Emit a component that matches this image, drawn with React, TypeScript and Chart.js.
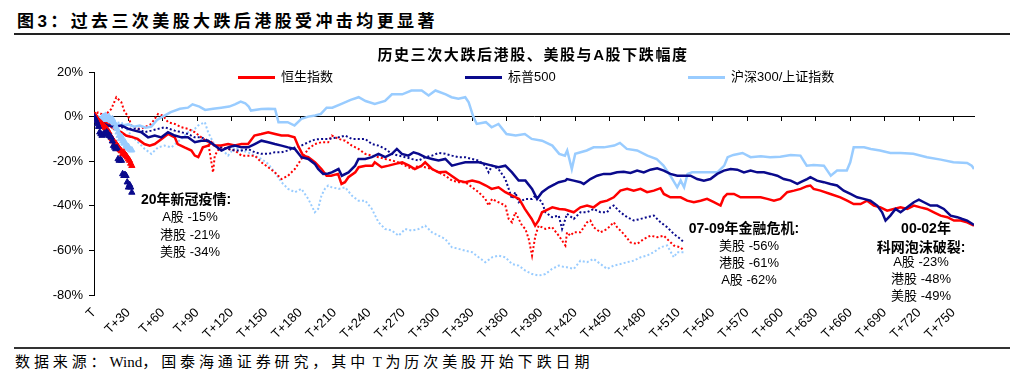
import React, { useEffect, useRef } from "react";
import { Chart, registerables } from "chart.js";

Chart.register(...registerables);

// ---------- axis labels ----------
const xTickDays = [0, 30, 60, 90, 120, 150, 180, 210, 240, 270, 300, 330, 360, 390, 420, 450, 480, 510, 540, 570, 600, 630, 660, 690, 720, 750];
const xTickLabels = ["T", "T+30", "T+60", "T+90", "T+120", "T+150", "T+180", "T+210", "T+240", "T+270", "T+300", "T+330", "T+360", "T+390", "T+420", "T+450", "T+480", "T+510", "T+540", "T+570", "T+600", "T+630", "T+660", "T+690", "T+720", "T+750"];
const yTickValues = [20, 0, -20, -40, -60, -80];
const yTickLabels = ["20%", "0%", "-20%", "-40%", "-60%", "-80%"];
const xMaxDay = 768;

const legendNames = ["恒生指数", "标普500", "沪深300/上证指数"];

// ---------- 2000-02 dot-com bust (solid lines) : [day, %] ----------
const hsi0002: [number, number][] = [
  [0, 0], [4, -1.5], [8, -3], [12, -3], [16, -5], [20, -6], [24, -7], [28, -8.5], [32, -9], [38, -10], [44, -12.3], [48.6, -13], [53, -12.3], [59, -10], [64.6, -7.8], [70.5, -9.3], [73, -12.3], [79, -13.8], [85, -15.2], [88, -17.5], [91, -18.2], [95, -13.8], [99.6, -13], [102.5, -11.5], [105, -13], [111, -13], [117, -12.3], [123, -13], [128.7, -12.3], [134.5, -12.3], [140, -8.5], [146, -7.8], [152, -7], [158, -7.8], [163.6, -8.5], [169.4, -8.5], [175, -9.3], [178, -13], [182.5, -17.5], [187, -18.2], [193, -20.5], [198.5, -23.5], [203, -26.5],
  [207, -26.5], [213, -25.7], [216, -30.2], [219, -29.4], [222, -27.2], [228, -25], [231, -22.7], [237, -22], [243, -22], [245, -20.5], [251, -22.7], [257, -22], [263, -21.2], [269, -20.5], [275, -22], [280, -23.5], [286, -22], [289, -20.5], [295, -23.5], [301, -25], [307, -24.7], [312, -26.5], [318, -28.7], [324, -29.4], [330, -28.7], [336, -29.4], [342, -30.9], [347, -32.4], [353, -31.7], [359, -33.9], [365, -35.4], [371, -36.9], [376, -41.4], [382, -45.9], [385, -48.9], [388, -46.6], [391, -42.9], [394, -42.2], [400, -40.7], [406, -41.4], [411, -41.7],
  [418.7, -42.9], [424.5, -40.7], [430.3, -39.9], [436, -40.7], [442, -38.4], [447.8, -37.7], [453.6, -36.2], [459.4, -33.2], [465.3, -32.4], [471, -33.2], [477, -32.4], [482.7, -33.9], [488.6, -33.2], [494.4, -32.1], [497.3, -34.7], [503, -36.2], [512, -36.2], [517.7, -37.7], [523.5, -38.4], [529.4, -37.7], [535, -36.9], [541, -38.4], [546.8, -39.9], [549.7, -36.2], [552.6, -34.7], [558.5, -34.7], [564.3, -36.2], [570, -36.2], [576, -36.2], [581.8, -36.2], [587.6, -36.9], [593.4, -37.7], [599, -36.9], [605, -33.9], [610.9, -33.2], [616.7, -32.4],
  [622.3, -31.2], [625.2, -30.9], [628, -32.4], [634, -33.2], [642.7, -34.7], [651.4, -36.2], [657.3, -37.7], [663, -39.2], [669, -39.2], [674.7, -37.7], [680.6, -39.9], [686.4, -40.7], [692.2, -42.2], [698, -41.4], [703.9, -40.7], [709.7, -41.4], [715.5, -39.9], [721.3, -40.7], [727, -41.4], [733, -42.9], [738.8, -44.4], [744.7, -45.1], [750.5, -46.6], [756.3, -46.6], [762, -47.4], [768, -48.9],
];

const spx0002: [number, number][] = [
  [0, 0], [4, -1.5], [8, -3], [12, -4], [18, -4.5], [24, -4], [30, -5.5], [35.5, -6.3], [41.3, -7], [47.2, -9.3], [53, -8.5], [58.8, -9.3], [64.6, -7], [70.5, -8.5], [76.3, -9.3], [82, -9.3], [88, -11.5], [93.7, -10.8], [99.6, -10.8], [105.4, -13], [111.2, -15.2], [117, -13.8], [122.9, -13], [128.7, -13.8], [134.5, -13.8], [140.3, -12.3], [146.1, -10.8], [152, -11.5], [157.8, -12.3], [163.6, -13], [169.4, -13.8], [175.3, -14.5], [181, -18.2], [187, -19], [192.7, -21.2], [195.6, -23.5], [200, -25.7], [204.4, -25.5],
  [207.5, -25], [213.4, -23.5], [216.3, -26.5], [222.1, -25], [227.9, -22], [230.8, -19], [236.7, -19], [242.5, -18.2], [248.3, -16.7], [254.1, -18.2], [260, -16.7], [264.3, -14.5], [268.7, -16.7], [274.5, -17.5], [278.9, -16], [283.3, -16.7], [289, -18.2], [295, -19], [300.7, -19.7], [306.6, -19], [312.4, -22], [318.2, -21.2], [324, -20.5], [330, -20.5], [335.7, -20.5], [341.5, -21.2], [347.4, -22], [353, -22.7], [359, -22], [364.8, -25], [370.6, -28.7], [376.5, -28.7], [382.3, -32.4], [386.7, -36.9], [391, -33.9], [396.9, -31.7], [402.7, -30.2], [405.6, -29.4], [411.4, -28.7],
  [412.8, -28], [418.7, -28.7], [424.5, -29.4], [427.4, -30.2], [433.2, -28], [439, -26.5], [444.9, -25.7], [450.7, -25.7], [456.5, -25], [462.3, -24.7], [468.2, -25.3], [474, -24.2], [479.8, -25], [485.6, -23.8], [491.5, -23.2], [497.3, -24.2], [503, -25.7], [509, -26.5], [514.8, -26.5], [520.6, -26.5], [526.4, -28], [532.3, -28.7], [538, -28], [543.9, -25.7], [549.7, -24.2], [555.6, -23.5], [561.4, -23.8], [567.2, -25], [573, -24.2], [578.9, -25], [584.7, -25], [590.5, -25.7], [596.3, -26.5], [602, -28], [608, -28.7], [613.8, -30.2], [616.7, -29.4],
  [622.3, -28], [625.2, -27.2], [631, -28.7], [636.9, -29.4], [642.7, -30.2], [648.5, -30.9], [654.3, -33.2], [660.2, -34.7], [666, -36.2], [671.8, -36.9], [677.6, -37.7], [683.5, -39.9], [687.8, -42.9], [690.8, -46.6], [695, -44.4], [699.5, -41.4], [703.9, -42.9], [709.7, -40.7], [715.5, -38.4], [719.9, -37.2], [724.3, -38.4], [730, -39.9], [735.9, -39.9], [741.7, -41.4], [747.6, -44.4], [753.4, -45.1], [757.8, -45.9], [762, -46.6], [768, -48.6],
];

const ashr0002: [number, number][] = [
  [0, 0], [5, -1], [10, -2], [15, -2.5], [20, -3.5], [25, -4], [30, -3.5], [35, -4.5], [40, -4], [45, -5], [50, -4.5], [55, -1.5], [60, 0], [67, 2], [75, 3.5], [82, 4], [86, 5.5], [92, 4.5], [97, 3], [104, 3.5], [111, 4], [118, 4.5], [123, 5.5], [128, 6.7], [132, 6], [135, 4.5], [137, 2.7], [146, 3.4], [152, 3.5], [158, 3.4], [161, -2.5], [169, -2.5], [175, -4], [181, -1], [187, 0], [193, 0.5], [198, 1.2], [203, 4],
  [208, 4], [216, 5.7], [224, 7.5], [231, 8.7], [237, 7], [245, 5.7], [254, 7], [260, 10], [269, 10], [277, 11.7], [286, 11.7], [292, 9.5], [298, 11.7], [307, 10], [312, 8.7], [318, 8], [324, 8.7], [327, 6.4], [331, 0], [334, -3.3], [342, -2.5], [347, -4.8], [353, -3.3], [360, -7.8], [368, -8.5], [376, -7.8], [382, -10], [391, -10.8], [400, -13], [406, -16.7], [411, -17.5],
  [413, -15.2], [417, -23.5], [420, -16.7], [430, -15.2], [436, -13.8], [445, -13.8], [454, -13], [459, -11.8], [465, -14.5], [474, -15.2], [483, -17.5], [491, -19], [497, -22], [503, -26.5], [509, -31.7], [512, -28.7], [515, -31.7], [518, -25.7], [522, -25], [532, -25], [544, -25], [550, -22], [553, -18.2], [558, -17.2], [566, -16.3], [573, -18.2], [582, -17.8], [590, -18.2], [599, -18],
  [608, -17.2], [616.5, -17.5], [622, -22], [628, -21.7], [637, -22], [643, -26.5], [648.5, -24.2], [657, -24.2], [660, -20.5], [663, -13.8], [672, -13.8], [678, -14.5], [686, -15.2], [695, -16.3], [704, -16.3], [715, -16.7], [727, -18.2], [739, -19.3], [750, -20.5], [762, -20.8], [766, -22], [768, -23.5],
];

// ---------- 2007-09 financial crisis (dotted lines) ----------
const hsi0709: [number, number][] = [
  [0, 0], [3.5, 1.9], [9.3, 0.4], [15.1, 3.4], [19.5, 8.7], [23.9, 6.4], [26.8, 1.9], [29.7, 0.4], [32.6, -4], [38.4, -5.5], [44.3, -4.8], [50, -3.3], [55.9, 1.2], [60.3, 0.4], [64.6, -2.5], [70.5, -3.3], [76.3, -4.8], [82.1, -5.5], [87.9, -7], [93.7, -9.3], [99.6, -11.5], [103.9, -25], [105.4, -17.5], [109.8, -13.8], [117, -14.5], [122.9, -15.2], [128.7, -17.5], [134.5, -17.5], [140.3, -17.5], [146.1, -20.5], [152, -22.7], [157.8, -25], [163.6, -28], [169.4, -26.5], [175.3, -23.5], [181, -19], [187, -14.5], [192.7, -12.3], [198.5, -11.5], [204.4, -11.5],
  [207.5, -8.5], [213.4, -10], [219.2, -10.8], [225, -13], [230.8, -14.5], [236.7, -16.7], [242.5, -17.5], [248.3, -18.2], [254.1, -19], [260, -19.7], [265.8, -20.5], [271.6, -22], [277.4, -23.5], [283.3, -22], [289, -22.7], [295, -23.5], [300.7, -25], [306.6, -26.5], [312.4, -28.7], [318.2, -29.4], [324, -29.4], [330, -31.7], [335.7, -33.9], [341.5, -36.9], [344.4, -39.9], [347.4, -36.9], [353, -38.4], [359, -39.9], [361.9, -45.9], [364.8, -47.4], [367.7, -42.9], [373.6, -48.9], [376.5, -50.4], [379.4, -54.9], [382.3, -62.3], [385.2, -53.4], [388, -48.9], [394, -50.4], [399.8, -49.6], [405.6, -53.4], [411.4, -57.8],
  [412.8, -51.9], [415.7, -53.4], [418.7, -51.9], [424.5, -51.9], [430.3, -47.4], [433.2, -46.6], [436, -49.6], [442, -51.9], [447.8, -50.4], [453.6, -47.4], [456.5, -49.6], [462.3, -52.6], [468.2, -56.4], [474, -57.1], [479.8, -54.9], [485.6, -53.4], [491.5, -54.1], [497.3, -53.4], [500.2, -54.9], [506, -57.8], [511.9, -58.6], [514.8, -60.1],
];

const spx0709: [number, number][] = [
  [0, 0], [3.5, -1], [12.2, -3.3], [23.9, -4.8], [32.6, -5.5], [38.4, -5.5], [44.3, -7], [50, -6.3], [55.9, -5.5], [61.7, -4.8], [70.5, -6.3], [76.3, -7], [82.1, -7.8], [87.9, -9.3], [93.7, -9.3], [99.6, -10.8], [105.4, -13], [111.2, -13.8], [117, -14.5], [122.9, -15.2], [128.7, -15.2], [134.5, -14.5], [140.3, -16], [146.1, -16.7], [152, -16.7], [157.8, -16], [163.6, -16], [169.4, -15.2], [175.3, -13.8], [181, -13], [187, -11.5], [192.7, -10.3], [198.5, -10], [204.4, -10],
  [213.4, -9.3], [219.2, -8.5], [225, -10], [230.8, -10], [236.7, -10], [242.5, -12.3], [248.3, -13], [254.1, -14.5], [260, -16.7], [265.8, -17.5], [271.6, -18.2], [277.4, -19], [283.3, -19.7], [289, -18.2], [295, -17.5], [300.7, -16.3], [306.6, -16.7], [312.4, -17.5], [318.2, -18.2], [324, -18.2], [330, -19], [335.7, -19.7], [341.5, -22], [344.4, -25], [347.4, -22], [353, -23.5], [359, -28], [361.9, -32.4], [364.8, -36.9], [367.7, -33.9], [370.6, -38.4], [376.5, -36.9], [382.3, -36.9], [385.2, -35.4], [391, -38.4], [394, -42.9], [399.8, -45.1], [405.6, -44.4], [408.5, -50.4], [411.4, -45.9],
  [412.8, -43.6], [418.7, -45.9], [424.5, -42.9], [430.3, -42.9], [436, -41.4], [442, -42.9], [447.8, -42.9], [450.7, -40.7], [453.6, -39.9], [459.4, -42.9], [465.3, -45.1], [471, -46.6], [477, -45.9], [482.7, -45.1], [488.6, -44.4], [494.4, -47.4], [500.2, -49.6], [506, -52.6], [511.9, -54.9], [514.8, -56.4],
];

const ashr0709: [number, number][] = [
  [0, 0], [6.4, -1.8], [15.1, -3.3], [23.9, -2.5], [32.6, -8.5], [38.4, -11.5], [44.3, -14.5], [50, -16.7], [55.9, -13.8], [61.7, -13], [67.5, -13.8], [76.3, -10], [82.1, -7], [87.9, -5.5], [90.8, -4], [96.7, -2.5], [99.6, -7], [105.4, -13], [111.2, -14.5], [117, -17.5], [122.9, -13.8], [128.7, -15.2], [134.5, -16], [140.3, -17.5], [146.1, -19], [152, -21.2], [157.8, -25], [163.6, -29.4], [169.4, -32.4], [175.3, -33.9], [181, -32.4], [187, -36.9], [192.7, -42.9], [195.6, -41.4], [198.5, -35.4], [201.5, -32.4], [204.4, -30.9],
  [207.5, -31.7], [213.4, -32.4], [219.2, -31.7], [225, -35.4], [230.8, -37.7], [236.7, -37.7], [242.5, -41.4], [248.3, -47.4], [254.1, -50.4], [260, -51.1], [265.8, -53.4], [271.6, -50.4], [277.4, -51.1], [283.3, -50.4], [289, -48.9], [295, -51.9], [300.7, -53.4], [306.6, -54.9], [312.4, -58.6], [318.2, -59.3], [324, -60.1], [330, -60.8], [335.7, -63.1], [341.5, -65.3], [347.4, -63.1], [353, -62.3], [359, -63.1], [364.8, -66.1], [370.6, -66.8], [376.5, -69.1], [382.3, -70.6], [388, -71.3], [394, -70.6], [399.8, -68.3], [405.6, -66.8], [411.4, -67.6],
  [412.8, -67.6], [418.7, -68.3], [424.5, -64.6], [430.3, -65.3], [436, -63.8], [442, -66.1], [447.8, -68.3], [453.6, -66.8], [459.4, -66.1], [465.3, -65.3], [471, -64.6], [477, -63.1], [482.7, -62.3], [488.6, -60.8], [494.4, -58.6], [500.2, -57.8], [506, -63.1], [509, -60.8], [514.8, -60.8],
];

// ---------- 2020 COVID (triangle markers), one value per day from T ----------
const spx2020 = [0, -1, -2, -3.3, -4.5, -7, -7.8, -8.5, -8, -7.5, -7.8, -7, -7.5, -8.5, -8.8, -9.3, -11, -13, -13.8, -14.5, -14, -19, -19.7, -19.2, -19.7, -25.7, -26.5, -26, -26.5, -29.4, -31.7, -30.5, -31.7, -34];
const hsi2020 = [0, 0.5, -0.5, -1.5, -2, -2.5, -3, -3.5, -4, -4.5, -5, -5.5, -6.3, -7, -8.5, -9.3, -10, -11, -12.3, -12, -13, -13.5, -14.5, -15, -15.5, -16.7, -16, -17, -17.5, -18.2, -19, -19.7, -21, -22];
const ashr2020 = [0, -0.5, -1, -1.5, -1, -2, -1.5, -0.5, 0, -1, 0.5, -0.5, -1, 0, -1.5, -2, -1, -2.5, -3, -4.5, -5.5, -7, -8.5, -10, -9, -11, -12, -11.5, -13, -14, -13.5, -14.5, -15, -15];

const RED = "#FF0000";
const NAVY = "#0A0A8C";
const LIGHT = "#99CCFF";
const FONT = '"Liberation Sans", Arial, "Noto Sans CJK SC", sans-serif';

const pairs = (arr: [number, number][]) => arr.map(([x, y]) => ({ x, y }));
const daily = (arr: number[]) => arr.map((y, i) => ({ x: i, y }));

export default function App() {
  const ref = useRef<HTMLCanvasElement | null>(null);

  useEffect(() => {
    if (!ref.current) return;
    const tri = (label: string, color: string, data: number[]) => ({
      label,
      data: daily(data),
      showLine: false,
      pointStyle: "triangle",
      pointRadius: 3.6,
      pointBackgroundColor: color,
      pointBorderColor: color,
      pointBorderWidth: 1,
      borderColor: color,
      backgroundColor: color,
      xAxisID: "x",
      yAxisID: "y",
    });
    const line = (label: string, color: string, data: [number, number][], dotted: boolean) => ({
      label,
      data: pairs(data),
      borderColor: color,
      backgroundColor: color,
      borderWidth: dotted ? 2 : 2.5,
      borderDash: dotted ? [2, 2.2] : [],
      pointRadius: 0,
      tension: 0,
      fill: false,
      xAxisID: "x",
      yAxisID: "y",
    });

    const chart = new Chart(ref.current, {
      type: "line",
      data: {
        datasets: [
          tri("标普500 2020", NAVY, spx2020),
          tri("恒生指数 2020", RED, hsi2020),
          tri("沪深300 2020", LIGHT, ashr2020),
          line(legendNames[1], NAVY, spx0002, false),
          line(legendNames[0], RED, hsi0002, false),
          line(legendNames[2], LIGHT, ashr0002, false),
          line("标普500 07-09", NAVY, spx0709, true),
          line("恒生指数 07-09", RED, hsi0709, true),
          line("上证指数 07-09", LIGHT, ashr0709, true),
        ] as any,
      },
      options: {
        animation: false,
        responsive: false,
        devicePixelRatio: 1,
        layout: { padding: { left: 34, right: 50, top: 72, bottom: 5 } },
        plugins: {
          legend: { display: false },
          tooltip: { enabled: false },
          title: { display: false },
        },
        scales: {
          x: {
            type: "linear",
            position: "bottom",
            min: 0,
            max: xMaxDay,
            grid: { display: false },
            border: { display: false },
            afterBuildTicks: (s: any) => {
              s.ticks = xTickDays.map((value) => ({ value }));
            },
            afterFit: (s: any) => {
              s.height = 45;
            },
            ticks: {
              autoSkip: false,
              includeBounds: false,
              minRotation: 45,
              maxRotation: 45,
              padding: 2,
              color: "#000",
              font: { family: FONT, size: 13 },
              callback: (v: any) => {
                const i = xTickDays.indexOf(Number(v));
                return i >= 0 ? xTickLabels[i] : "";
              },
            },
          },
          x0: {
            type: "linear",
            axis: "x",
            position: { y: 0 },
            min: 0,
            max: xMaxDay,
            grid: { drawOnChartArea: false, drawTicks: true, tickLength: 4, color: "#000", lineWidth: 1 },
            border: { display: true, color: "#000", width: 1 },
            afterBuildTicks: (s: any) => {
              s.ticks = xTickDays.map((value) => ({ value }));
            },
            ticks: { display: false, includeBounds: false },
          },
          y: {
            type: "linear",
            position: "left",
            min: -80,
            max: 20,
            afterBuildTicks: (s: any) => {
              s.ticks = yTickValues.map((value) => ({ value }));
            },
            afterFit: (s: any) => {
              s.width = 60;
            },
            grid: { drawOnChartArea: false, drawTicks: true, tickLength: 5, color: "#000", lineWidth: 1 },
            border: { display: true, color: "#000", width: 1 },
            ticks: {
              padding: 6,
              color: "#000",
              font: { family: FONT, size: 13 },
              callback: (v: any) => {
                const i = yTickValues.indexOf(Number(v));
                return i >= 0 ? yTickLabels[i] : "";
              },
            },
          },
        } as any,
      },
    });
    return () => chart.destroy();
  }, []);

  const abs = (extra: React.CSSProperties): React.CSSProperties => ({ position: "absolute", whiteSpace: "nowrap", ...extra });
  const note = (text: string, cx: number, cy: number, bold = false) => (
    <div
      style={abs({
        left: cx,
        top: cy - 9,
        lineHeight: "18px",
        transform: "translateX(-50%)",
        fontSize: bold ? 14 : 13,
        fontWeight: bold ? 700 : 400,
        color: "#000",
      })}
    >
      {text}
    </div>
  );
  const legendItem = (name: string, color: string, lineLeft: number, textLeft: number) => (
    <React.Fragment key={name}>
      <div style={abs({ left: lineLeft, top: 76, width: textLeft - 6 - lineLeft, height: 3, background: color })} />
      <div style={abs({ left: textLeft, top: 68, lineHeight: "18px", fontSize: 13, color: "#000" })}>{name}</div>
    </React.Fragment>
  );
  const cjk: React.CSSProperties = { letterSpacing: 3.9 };

  return (
    <div
      style={{
        position: "absolute",
        left: 0,
        top: 0,
        width: 1024,
        height: 377,
        background: "#fff",
        overflow: "hidden",
        fontFamily: FONT,
        color: "#000",
      }}
    >
      <div style={abs({ left: 17, top: 12, fontSize: 17, lineHeight: "20px", fontWeight: 700, letterSpacing: 3.4 })}>
        图3：过去三次美股大跌后港股受冲击均更显著
      </div>
      <div style={abs({ left: 14, top: 33, width: 996, height: 2, background: "#222" })} />

      <canvas ref={ref} width={1024} height={345} style={{ position: "absolute", left: 0, top: 0 }} />

      <div style={abs({ left: 533, top: 46, lineHeight: "18px", fontSize: 15, fontWeight: 700, letterSpacing: 1.6, transform: "translateX(-50%)" })}>
        历史三次大跌后港股、美股与A股下跌幅度
      </div>
      {legendItem(legendNames[0], RED, 238, 281)}
      {legendItem(legendNames[1], NAVY, 465, 508)}
      {legendItem(legendNames[2], LIGHT, 688, 731)}

      {note("20年新冠疫情:", 186, 199, true)}
      {note("A股 -15%", 190, 217)}
      {note("港股 -21%", 190, 235)}
      {note("美股 -34%", 190, 252)}

      {note("07-09年金融危机:", 744, 228, true)}
      {note("美股 -56%", 749, 246)}
      {note("港股 -61%", 749, 263)}
      {note("A股 -62%", 749, 280)}

      {note("00-02年", 926, 228, true)}
      {note("科网泡沫破裂:", 921, 247, true)}
      {note("A股 -23%", 921, 262)}
      {note("港股 -48%", 921, 279)}
      {note("美股 -49%", 921, 296)}

      <div style={abs({ left: 14, top: 347, width: 996, height: 2, background: "#333" })} />
      <div style={abs({ left: 15, top: 352, fontSize: 15, lineHeight: "20px" })}>
        <span style={cjk}>数据来源：</span>
        <span style={{ fontFamily: '"Liberation Serif", serif' }}>Wind</span>
        <span style={cjk}>，国泰海通证券研究，其中</span>
        <span style={{ fontFamily: '"Liberation Serif", serif' }}> T </span>
        <span style={cjk}>为历次美股开始下跌日期</span>
      </div>
    </div>
  );
}
